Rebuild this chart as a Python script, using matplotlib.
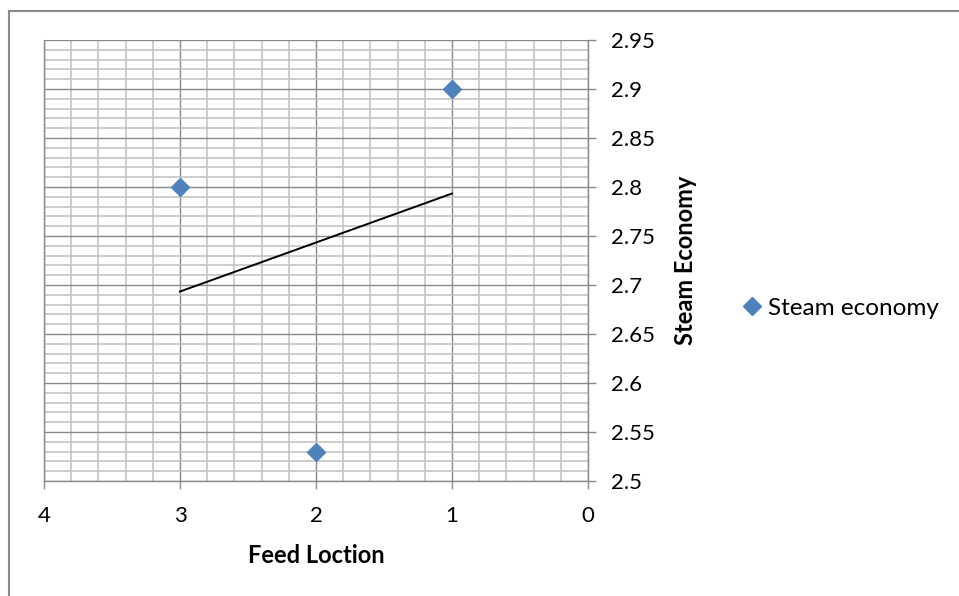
import matplotlib
matplotlib.use("Agg")
import matplotlib.pyplot as plt
import numpy as np
from matplotlib.ticker import MultipleLocator
from matplotlib.lines import Line2D
from matplotlib.patches import Rectangle

feed_location = [1, 2, 3]
steam_economy = [2.9, 2.53, 2.8]
x_ticks = [4, 3, 2, 1, 0]
y_ticks = [2.5, 2.55, 2.6, 2.65, 2.7, 2.75, 2.8, 2.85, 2.9, 2.95]

plt.rcParams['font.family'] = ['Lato', 'DejaVu Sans']

W, H = 959, 596
fig = plt.figure(figsize=(W / 100, H / 100), dpi=100)
ax = fig.add_axes([44 / W, (H - 481) / H, (588 - 44) / W, (481 - 40) / H])

blue = '#4F81BD'
ax.plot(feed_location, steam_economy, linestyle='none', marker='D', markersize=9.5,
        color=blue, markeredgecolor=blue, markeredgewidth=1, zorder=5, clip_on=False)

# linear trendline
coef = np.polyfit(feed_location, steam_economy, 1)
tx = np.array([min(feed_location), max(feed_location)])
ax.plot(tx, np.polyval(coef, tx), color='black', linewidth=1.4, zorder=4)

ax.set_xlim(4, 0)
ax.set_ylim(2.5, 2.95)
ax.set_xticks(x_ticks)
ax.set_xticklabels([str(v) for v in x_ticks])
ax.set_yticks(y_ticks)
ax.set_yticklabels([f"{v:g}" for v in y_ticks])
ax.xaxis.set_minor_locator(MultipleLocator(0.2))
ax.yaxis.set_minor_locator(MultipleLocator(0.01))

ax.yaxis.tick_right()
ax.yaxis.set_label_position('right')

ax.grid(which='major', color='#8a8a8a', linewidth=1.0, zorder=1)
ax.grid(which='minor', color='#c0c0c0', linewidth=1.1, zorder=0)
ax.set_axisbelow(True)

ax.spines['top'].set_visible(False)
for side in ['left', 'bottom', 'right']:
    ax.spines[side].set_color('#8a8a8a')
    ax.spines[side].set_linewidth(1.0)

ax.tick_params(axis='both', which='minor', length=0)
ax.tick_params(axis='both', which='major', length=5.8, color='#8a8a8a', labelsize=16,
               labelcolor='black', width=1)
ax.tick_params(axis='x', pad=12)
ax.tick_params(axis='y', pad=11)

ax.set_xlabel('Feed Loction', fontsize=17, fontweight='bold')
ax.xaxis.set_label_coords(0.5, -0.170)
ax.xaxis.label.set_va('center')
ax.set_ylabel('Steam Economy', fontsize=17, fontweight='bold')
ax.yaxis.set_label_coords(1.18, 0.5)
ax.yaxis.label.set_va('center')

handle = Line2D([], [], linestyle='none', marker='D', markersize=9.5, color=blue)
fig.legend([handle], ['Steam economy'], loc='center left',
           bbox_to_anchor=(740 / W, 1 - 308 / H), frameon=False, fontsize=17.5,
           handletextpad=0.15, handlelength=1.0, borderaxespad=0, borderpad=0)

# outer chart frame
fig.add_artist(Rectangle((8.5 / W, -0.1), 1.2, 1 - 11 / H + 0.1, transform=fig.transFigure,
                         fill=False, edgecolor='#8a8a8a', linewidth=1.5))

fig.savefig('out.png', dpi=100)
